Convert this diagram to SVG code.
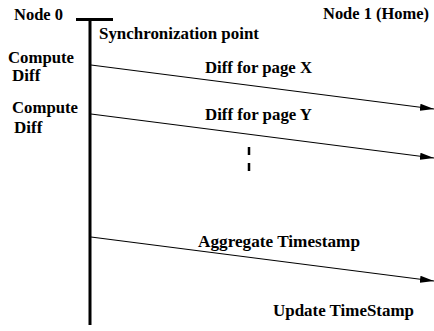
<svg xmlns="http://www.w3.org/2000/svg" width="434" height="331" viewBox="0 0 434 331">
<defs>
<style>
text{font-family:"Liberation Serif","DejaVu Serif","Times New Roman",serif;font-weight:700;font-size:17px;fill:#000}
.msg{stroke:#000;stroke-width:1.2;fill:none;marker-end:url(#ah)}
.life{stroke:#000;stroke-width:3;fill:none}
</style>
<marker id="ah" markerUnits="userSpaceOnUse" markerWidth="14" markerHeight="10" refX="12" refY="4" orient="auto" viewBox="0 0 12 8">
<path d="M0,1 L12,4 L0,7 Z" fill="#000"/>
</marker>
</defs>
<g id="node0">
<text x="14" y="20" textLength="49" lengthAdjust="spacingAndGlyphs">Node 0</text>
<line class="life" x1="76" y1="19.5" x2="113" y2="19.5" stroke-width="2.5"/>
<line class="life" x1="90" y1="19" x2="90" y2="325"/>
</g>
<g id="node1">
<text x="323" y="19" textLength="106" lengthAdjust="spacingAndGlyphs">Node 1 (Home)</text>
</g>
<g id="sync"><text x="99" y="39" textLength="160" lengthAdjust="spacingAndGlyphs">Synchronization point</text></g>
<g id="compute1"><text x="8" y="63" textLength="66" lengthAdjust="spacingAndGlyphs">Compute</text><text x="12" y="80.5">Diff</text></g>
<g id="compute2"><text x="12" y="113" textLength="66" lengthAdjust="spacingAndGlyphs">Compute</text><text x="14" y="133">Diff</text></g>
<g id="update"><text x="273" y="316" textLength="141" lengthAdjust="spacingAndGlyphs">Update TimeStamp</text></g>
<g id="connectors">
<line class="msg" x1="91" y1="65" x2="434" y2="109"/>
<line class="msg" x1="91" y1="114" x2="434" y2="158"/>
<line class="msg" x1="91" y1="237" x2="434" y2="281"/>
<line x1="249" y1="147" x2="249" y2="171" stroke="#000" stroke-width="2.5" stroke-dasharray="8,8"/>
<text x="205" y="73" textLength="107" lengthAdjust="spacingAndGlyphs">Diff for page X</text>
<text x="205" y="120" textLength="107" lengthAdjust="spacingAndGlyphs">Diff for page Y</text>
<text x="198" y="247" textLength="162" lengthAdjust="spacingAndGlyphs">Aggregate Timestamp</text>
</g>
</svg>
